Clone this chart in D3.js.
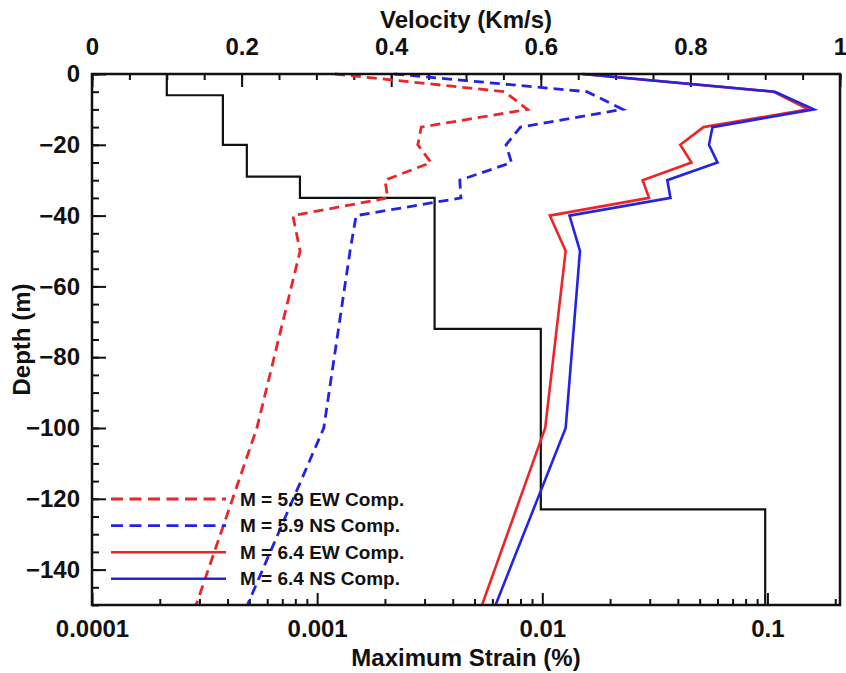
<!DOCTYPE html>
<html>
<head>
<meta charset="utf-8">
<script src="https://cdn.jsdelivr.net/npm/d3@7"></script>
<style>
  html, body { margin: 0; padding: 0; background: #fff; }
  svg { display: block; }
  .tick text { font-family: "Liberation Sans", Arial, Helvetica, sans-serif; font-weight: bold; font-size: 24px; fill: #111; }
  .title { font-family: "Liberation Sans", Arial, Helvetica, sans-serif; font-weight: bold; font-size: 24px; fill: #111; }
  .legend text { font-family: "Liberation Sans", Arial, Helvetica, sans-serif; font-weight: bold; font-size: 19px; fill: #111; }
</style>
</head>
<body>
<svg id="chart" width="846" height="673"></svg>
<script>
// Depths (m, positive downward) at which the strain profiles were sampled
const depths = [0, 5, 10, 15, 20, 25, 30, 35, 40, 50, 100, 150];

// Maximum strain (%) for each record and component
const strainM59EW = [0.0012, 0.0068, 0.0086, 0.0029, 0.0028, 0.0032, 0.0020, 0.00206, 0.00078, 0.00084, 0.00054, 0.00029];
const strainM59NS = [0.0022, 0.0158, 0.0228, 0.0080, 0.0069, 0.0073, 0.0043, 0.00435, 0.00149, 0.0014, 0.00107, 0.00049];
const strainM64EW = [0.0151, 0.106, 0.152, 0.052, 0.041, 0.046, 0.0279, 0.0298, 0.0108, 0.0127, 0.0103, 0.0054];
const strainM64NS = [0.0151, 0.108, 0.161, 0.057, 0.055, 0.060, 0.0359, 0.0371, 0.0132, 0.0147, 0.0127, 0.0062];

// Shear-wave velocity profile: layer boundaries (m) and layer velocities (km/s)
const layerBounds = [0, 6, 20, 29, 35, 72, 123, 150];
const layerVelocity = [0.10, 0.175, 0.207, 0.278, 0.458, 0.60, 0.90];

// Axis tick values
const depthTicks = [0, -20, -40, -60, -80, -100, -120, -140];
const velocityTicks = [0, 0.2, 0.4, 0.6, 0.8, 1];
const strainTicks = [0.0001, 0.001, 0.01, 0.1];
const strainTickLabels = ["0.0001", "0.001", "0.01", "0.1"];

const seriesNames = ["M = 5.9 EW Comp.", "M = 5.9 NS Comp.", "M = 6.4 EW Comp.", "M = 6.4 NS Comp."];
const seriesColors = ["#ec2528", "#2323e6", "#ec2528", "#2323e6"];
const seriesDashed = [true, true, false, false];

const svg = d3.select("#chart");
const plot = { left: 92, right: 840, top: 74, bottom: 605 };

const y = d3.scaleLinear().domain([0, -150]).range([plot.top, plot.bottom]);
const xVel = d3.scaleLinear().domain([0, 1]).range([plot.left, plot.right]);
const xStr = d3.scaleLog().domain([0.0001, 0.21]).range([plot.left, plot.right]);

// ---- Axes ----
// Top (velocity): major + minor ticks pointing into the plot
svg.append("g")
  .attr("transform", `translate(0,${plot.top})`)
  .call(d3.axisTop(xVel).tickValues(d3.range(0, 1.0001, 0.05)).tickSize(-6).tickFormat(""))
  .call(g => g.select(".domain").remove());
svg.append("g")
  .attr("transform", `translate(0,${plot.top})`)
  .call(d3.axisTop(xVel).tickValues(velocityTicks).tickSize(-13).tickPadding(19).tickFormat(d => d === 0 || d === 1 ? d3.format("d")(d) : d3.format(".1f")(d)))
  .call(g => g.select(".domain").remove());

// Bottom (strain, log)
const minorStrain = [];
[0.0001, 0.001, 0.01, 0.1].forEach(dec => {
  for (let k = 2; k <= 9; k++) { const v = dec * k; if (v <= 0.21) minorStrain.push(v); }
});
svg.append("g")
  .attr("transform", `translate(0,${plot.bottom})`)
  .call(d3.axisBottom(xStr).tickValues(minorStrain).tickSize(-6).tickFormat(""))
  .call(g => g.select(".domain").remove());
svg.append("g")
  .attr("transform", `translate(0,${plot.bottom})`)
  .call(d3.axisBottom(xStr).tickValues(strainTicks).tickSize(-12).tickPadding(15).tickFormat((d, i) => strainTickLabels[i]))
  .call(g => g.select(".domain").remove());

// Left (depth)
svg.append("g")
  .attr("transform", `translate(${plot.left},0)`)
  .call(d3.axisLeft(y).tickValues(d3.range(0, -150.1, -5)).tickSize(-7).tickFormat(""))
  .call(g => g.select(".domain").remove());
svg.append("g")
  .attr("transform", `translate(${plot.left},0)`)
  .call(d3.axisLeft(y).tickValues(depthTicks).tickSize(-14).tickPadding(12).tickFormat(d3.format("d")))
  .call(g => g.select(".domain").remove());

svg.selectAll(".tick line").attr("stroke", "#111").attr("stroke-width", 2);

// ---- Velocity profile (step line) ----
const stepPts = [];
layerVelocity.forEach((v, i) => {
  stepPts.push([v, layerBounds[i]]);
  stepPts.push([v, layerBounds[i + 1]]);
});
svg.append("path")
  .datum(stepPts)
  .attr("fill", "none")
  .attr("stroke", "#111")
  .attr("stroke-width", 2.2)
  .attr("d", d3.line().x(d => xVel(d[0])).y(d => y(-d[1])));

// ---- Strain profiles ----
const seriesValues = [strainM59EW, strainM59NS, strainM64EW, strainM64NS];
const strainLine = d3.line().x(d => xStr(d[0])).y(d => y(-d[1]));
seriesValues.forEach((vals, i) => {
  svg.append("path")
    .datum(vals.map((v, j) => [v, depths[j]]))
    .attr("fill", "none")
    .attr("stroke", seriesColors[i])
    .attr("stroke-width", seriesDashed[i] ? 2.8 : 2.6)
    .attr("stroke-dasharray", seriesDashed[i] ? "10,6" : null)
    .attr("stroke-linejoin", "miter")
    .attr("d", strainLine);
});

// ---- Frame ----
svg.append("rect")
  .attr("x", plot.left).attr("y", plot.top)
  .attr("width", plot.right - plot.left).attr("height", plot.bottom - plot.top)
  .attr("fill", "none").attr("stroke", "#111").attr("stroke-width", 2.5);

// ---- Titles ----
svg.append("text").attr("class", "title")
  .attr("x", (plot.left + plot.right) / 2).attr("y", 28)
  .attr("text-anchor", "middle").text("Velocity (Km/s)");
svg.append("text").attr("class", "title")
  .attr("x", (plot.left + plot.right) / 2).attr("y", 666)
  .attr("text-anchor", "middle").text("Maximum Strain (%)");
svg.append("text").attr("class", "title")
  .attr("transform", `translate(30,${(plot.top + plot.bottom) / 2}) rotate(-90)`)
  .attr("text-anchor", "middle").text("Depth (m)");

// ---- Legend ----
const legend = svg.append("g").attr("class", "legend");
seriesNames.forEach((name, i) => {
  const ly = 499 + i * 26.6;
  legend.append("line")
    .attr("x1", 111).attr("x2", 226).attr("y1", ly).attr("y2", ly)
    .attr("stroke", seriesColors[i])
    .attr("stroke-width", seriesDashed[i] ? 2.8 : 2.6)
    .attr("stroke-dasharray", seriesDashed[i] ? "12,6.5" : null);
  legend.append("text")
    .attr("x", 240).attr("y", ly).attr("dy", "0.35em")
    .text(name);
});
</script>
</body>
</html>
